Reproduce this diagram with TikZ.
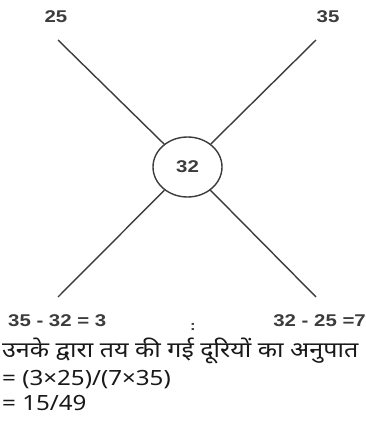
\documentclass[tikz,border=0pt]{standalone}
\usepackage{fontspec}
\setmainfont{Noto Sans}
\newfontfamily\hindifont[Script=Devanagari,FakeStretch=1.15]{Noto Sans}
\newfontfamily\txtfont[FakeStretch=1.15]{Noto Sans}
\newfontfamily\lblfont[FakeStretch=1.2]{Liberation Sans}
\usetikzlibrary{shapes.geometric}
\definecolor{mygrey}{RGB}{60,60,60}
\definecolor{mytext}{RGB}{25,25,25}
\tikzset{
  numlabel/.style={font=\lblfont\bfseries\fontsize{17}{20}\selectfont, text=mygrey, inner sep=0pt},
  ring/.style={ellipse, draw=mygrey, line width=1.4pt, minimum width=69pt, minimum height=60pt,
    font=\lblfont\bfseries\fontsize{17}{20}\selectfont, text=mygrey},
  leg/.style={draw=mygrey, line width=1.4pt},
  textline/.style={anchor=base west, inner sep=0pt, text=mytext}
}
\begin{document}
\begin{tikzpicture}[x=1pt,y=-1pt]
  \useasboundingbox[fill=white] (0,0) rectangle (366,433);
  % centre and arms
  \node[ring] (mid) at (187.5,167) {32};
  \coordinate (tl) at (58,40);
  \coordinate (tr) at (316,40);
  \coordinate (bl) at (58,297);
  \coordinate (br) at (316,297);
  \foreach \c in {tl,tr,bl,br} {
    \draw[leg] (\c) -- (mid);
  }
  % numbers
  \node[numlabel, anchor=base] (top25) at (56,23) {25};
  \node[numlabel, anchor=base] (top35) at (328,23) {35};
  \node[numlabel, anchor=base west] (diffl) at (8,326) {35 - 32 = 3};
  \node[numlabel, anchor=base east] (diffr) at (366,326) {32 - 25 =7};
  \node[numlabel, font=\lblfont\bfseries\fontsize{14}{16}\selectfont] (colon) at (193,327) {:};
  % working below
  \node[textline, font=\hindifont\fontsize{21.8}{26}\selectfont] (ratio) at (2,357)
    {उनके द्वारा तय की गई दूरियों का अनुपात};
  \node[textline, font=\txtfont\fontsize{21}{25}\selectfont] (step1) at (2,385)
    {= (3×25)/(7×35)};
  \node[textline, font=\txtfont\fontsize{21}{25}\selectfont] (step2) at (2,410)
    {= 15/49};
\end{tikzpicture}
\end{document}
